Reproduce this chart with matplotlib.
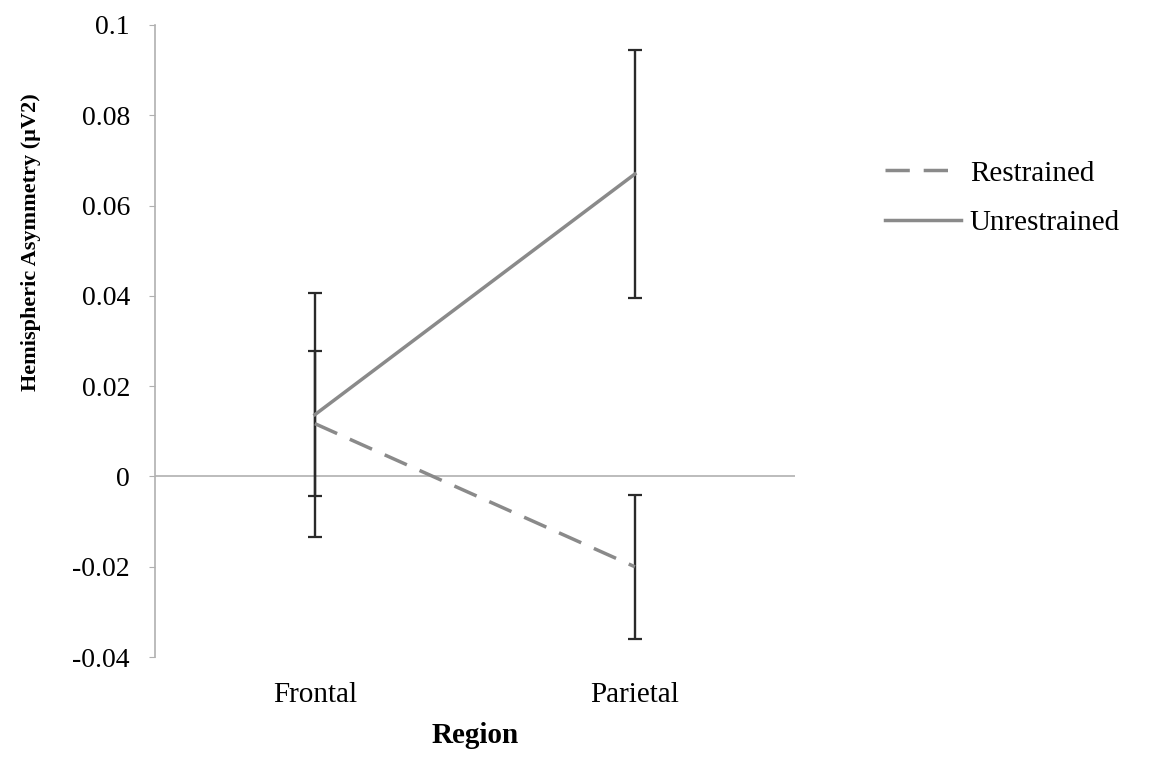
import numpy as np
import matplotlib.pyplot as plt

plt.rcParams['font.family'] = ['Liberation Serif', 'DejaVu Serif']

regions = ["Frontal", "Parietal"]
restrained = [0.0117, -0.0200]
restrained_err = [0.0160, 0.0160]
unrestrained = [0.0137, 0.0670]
unrestrained_err = [0.0270, 0.0275]

fig = plt.figure(figsize=(11.53, 7.57), dpi=100)
ax = fig.add_axes([0.1344, 0.132, 0.555, 0.835])

x = np.arange(len(regions)) + 0.5

line_col = "#8a8a8a"
bar_col = "#2a2a2a"

ax.errorbar(x, unrestrained, yerr=unrestrained_err, fmt="none", ecolor=bar_col,
            elinewidth=1.7, capsize=5, capthick=1.6, zorder=2)
ax.errorbar(x, restrained, yerr=restrained_err, fmt="none", ecolor=bar_col,
            elinewidth=1.7, capsize=5, capthick=1.6, zorder=2)
ax.plot(x, restrained, color=line_col, lw=2.5, dashes=(7, 4), label="Restrained", zorder=3)
ax.plot(x, unrestrained, color=line_col, lw=2.5, label="Unrestrained", zorder=3)

ax.axhline(0, color="#b0b0b0", lw=1.2, zorder=1)

ax.set_xlim(0, 2)
ax.set_ylim(-0.04, 0.1)
ax.set_yticks(np.arange(-0.04, 0.1001, 0.02))
ax.set_yticklabels(["-0.04", "-0.02", "0", "0.02", "0.04", "0.06", "0.08", "0.1"])
ax.set_xticks(x)
ax.set_xticklabels(regions)

for s in ["top", "right", "bottom"]:
    ax.spines[s].set_visible(False)
ax.spines["left"].set_color("#b0b0b0")
ax.spines["left"].set_linewidth(1.2)
ax.tick_params(axis="y", length=4, color="#b0b0b0", labelsize=20, pad=14)
ax.tick_params(axis="x", length=0, labelsize=21, pad=18)

ax.set_ylabel("Hemispheric Asymmetry (µV2)", fontsize=16, fontweight="bold")
ax.yaxis.set_label_coords(-0.178, 0.657)
ax.set_xlabel("Region", fontsize=21, fontweight="bold", labelpad=10)

fig.legend(loc="upper left", bbox_to_anchor=(0.745, 0.823), frameon=False,
           fontsize=21, handlelength=2.6, handletextpad=0.3, labelspacing=0.8)

fig.savefig("out.png", dpi=100)
